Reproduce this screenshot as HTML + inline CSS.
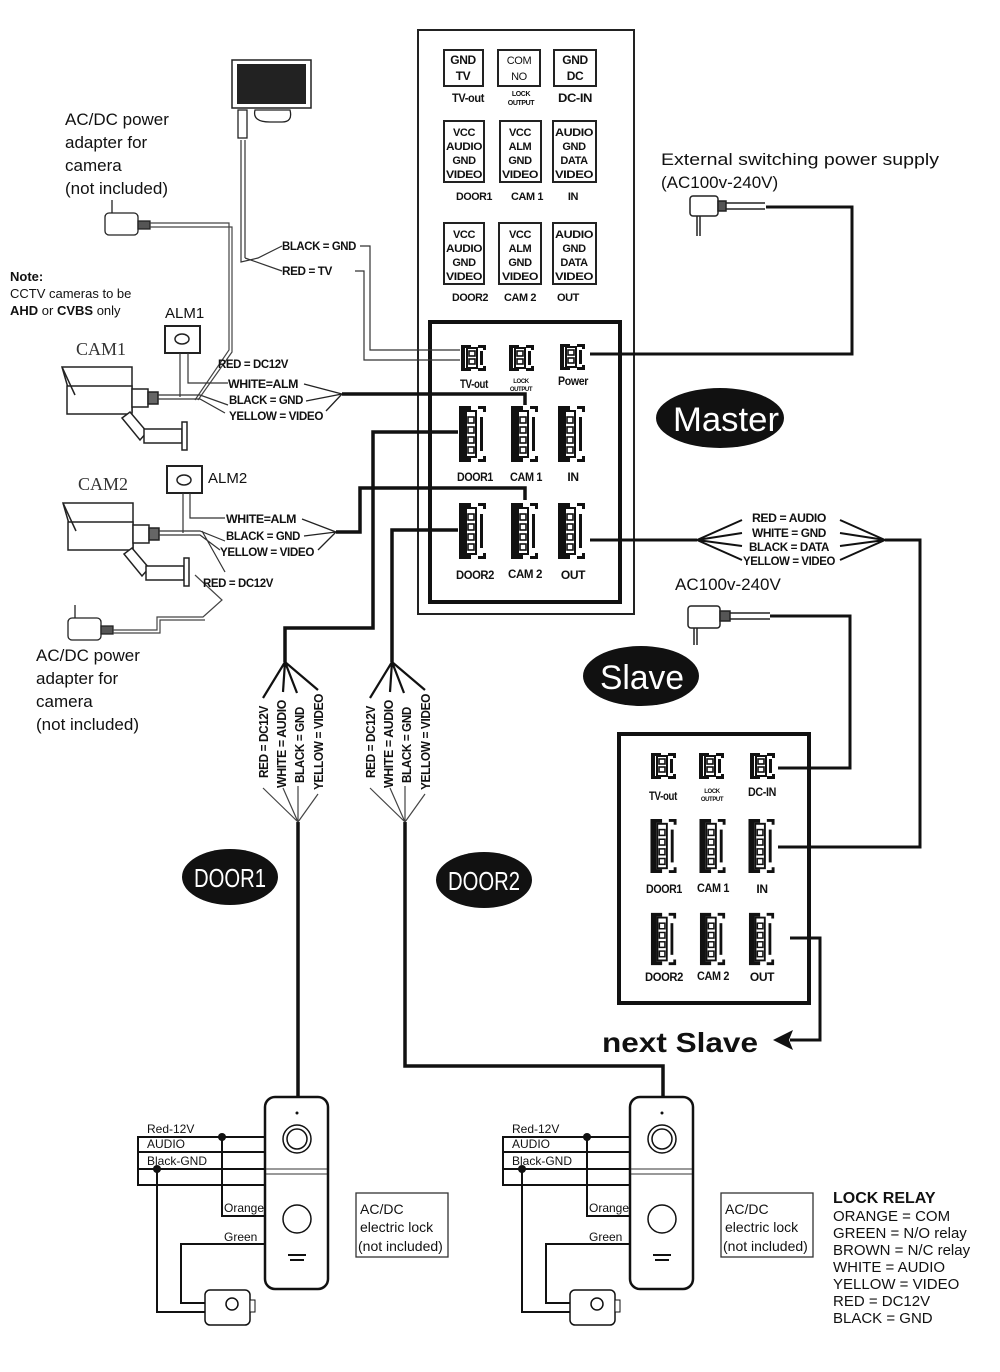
<!DOCTYPE html>
<html><head><meta charset="utf-8"><style>
html,body{margin:0;padding:0;background:#fff}
svg{display:block}
.t{font-family:"Liberation Sans",sans-serif;fill:#111}
.n{font-family:"Liberation Sans",sans-serif;font-weight:bold;fill:#111;letter-spacing:-0.4px}
.s{font-family:"Liberation Serif",serif;fill:#333}
</style></head><body>
<svg width="1000" height="1372" viewBox="0 0 1000 1372" xmlns="http://www.w3.org/2000/svg">
<defs>
<symbol id="c4" viewBox="0 0 30 58">
<path d="M1 1h12v4h-6v48h6v4h-12z" fill="#111"/>
<rect x="8" y="6" width="10" height="46" fill="#fff" stroke="#111" stroke-width="2"/>
<rect x="10" y="12" width="6" height="6" fill="none" stroke="#111" stroke-width="1.6"/>
<rect x="10" y="22" width="6" height="6" fill="none" stroke="#111" stroke-width="1.6"/>
<rect x="10" y="32" width="6" height="6" fill="none" stroke="#111" stroke-width="1.6"/>
<rect x="10" y="42" width="6" height="6" fill="none" stroke="#111" stroke-width="1.6"/>
<rect x="22" y="12" width="3" height="34" fill="#111"/>
<path d="M20 1h8v6h-3v-3h-5zM20 57h8v-6h-3v3h-5z" fill="#111"/>
</symbol>
<symbol id="c2" viewBox="0 0 28 28">
<path d="M1 1h10v3h-6v20h6v3h-10z" fill="#111"/>
<rect x="7" y="4" width="10" height="20" fill="#fff" stroke="#111" stroke-width="2"/>
<rect x="9" y="7" width="6" height="5" fill="none" stroke="#111" stroke-width="1.6"/>
<rect x="9" y="15" width="6" height="5" fill="none" stroke="#111" stroke-width="1.6"/>
<rect x="20" y="7" width="3" height="14" fill="#111"/>
<path d="M18 1h8v5h-3v-2h-5zM18 27h8v-5h-3v2h-5z" fill="#111"/>
</symbol>
</defs>

<!-- master panel -->
<rect x="418" y="30" width="216" height="584" fill="none" stroke="#222" stroke-width="2"/>
<g fill="none" stroke="#222" stroke-width="2">
<rect x="444" y="50" width="39" height="36"/><rect x="498" y="50" width="42" height="36"/><rect x="554" y="50" width="42" height="36"/>
<rect x="444" y="121" width="40" height="61"/><rect x="500" y="121" width="41" height="61"/><rect x="553" y="121" width="43" height="61"/>
<rect x="444" y="223" width="40" height="61"/><rect x="499" y="223" width="42" height="61"/><rect x="553" y="223" width="43" height="61"/>
</g>
<g class="n" font-size="12" text-anchor="middle">
<text x="463" y="64">GND</text><text x="463" y="80">TV</text>
<text x="519" y="64" font-size="11" font-weight="normal">COM</text><text x="519" y="80" font-size="11" font-weight="normal">NO</text>
<text x="575" y="64">GND</text><text x="575" y="80">DC</text>
<text x="468" y="102" textLength="32" lengthAdjust="spacingAndGlyphs">TV-out</text>
<text x="521" y="96" font-size="7">LOCK</text><text x="521" y="105" font-size="7">OUTPUT</text>
<text x="575" y="102" textLength="34" lengthAdjust="spacingAndGlyphs">DC-IN</text>
<g font-size="11">
<text x="464" y="136">VCC</text><text x="464" y="150" textLength="36" lengthAdjust="spacingAndGlyphs">AUDIO</text><text x="464" y="164">GND</text><text x="464" y="178" textLength="36" lengthAdjust="spacingAndGlyphs">VIDEO</text>
<text x="520" y="136">VCC</text><text x="520" y="150">ALM</text><text x="520" y="164">GND</text><text x="520" y="178" textLength="36" lengthAdjust="spacingAndGlyphs">VIDEO</text>
<text x="574" y="136" textLength="38" lengthAdjust="spacingAndGlyphs">AUDIO</text><text x="574" y="150">GND</text><text x="574" y="164">DATA</text><text x="574" y="178" textLength="38" lengthAdjust="spacingAndGlyphs">VIDEO</text>
<text x="474" y="200" textLength="36" lengthAdjust="spacingAndGlyphs">DOOR1</text><text x="527" y="200" textLength="32" lengthAdjust="spacingAndGlyphs">CAM 1</text><text x="573" y="200">IN</text>
<text x="464" y="238">VCC</text><text x="464" y="252" textLength="36" lengthAdjust="spacingAndGlyphs">AUDIO</text><text x="464" y="266">GND</text><text x="464" y="280" textLength="36" lengthAdjust="spacingAndGlyphs">VIDEO</text>
<text x="520" y="238">VCC</text><text x="520" y="252">ALM</text><text x="520" y="266">GND</text><text x="520" y="280" textLength="36" lengthAdjust="spacingAndGlyphs">VIDEO</text>
<text x="574" y="238" textLength="38" lengthAdjust="spacingAndGlyphs">AUDIO</text><text x="574" y="252">GND</text><text x="574" y="266">DATA</text><text x="574" y="280" textLength="38" lengthAdjust="spacingAndGlyphs">VIDEO</text>
<text x="470" y="301" textLength="36" lengthAdjust="spacingAndGlyphs">DOOR2</text><text x="520" y="301" textLength="32" lengthAdjust="spacingAndGlyphs">CAM 2</text><text x="568" y="301">OUT</text>
</g></g>
<rect x="430" y="322" width="190" height="280" fill="none" stroke="#111" stroke-width="4"/>
<use href="#c2" x="460" y="344" width="28" height="28"/>
<use href="#c2" x="508" y="344" width="28" height="28"/>
<use href="#c2" x="559" y="343" width="28" height="28"/>
<use href="#c4" x="458" y="405" width="30" height="58"/>
<use href="#c4" x="510" y="405" width="30" height="58"/>
<use href="#c4" x="557" y="405" width="30" height="58"/>
<use href="#c4" x="458" y="502" width="30" height="58"/>
<use href="#c4" x="510" y="502" width="30" height="58"/>
<use href="#c4" x="557" y="502" width="30" height="58"/>
<g class="n" font-size="12" text-anchor="middle">
<text x="474" y="388" textLength="28" lengthAdjust="spacingAndGlyphs">TV-out</text><text x="521" y="383" font-size="6">LOCK</text><text x="521" y="391" font-size="6">OUTPUT</text><text x="573" y="385" textLength="30" lengthAdjust="spacingAndGlyphs">Power</text>
<text x="475" y="481" textLength="36" lengthAdjust="spacingAndGlyphs">DOOR1</text><text x="526" y="481" textLength="32" lengthAdjust="spacingAndGlyphs">CAM 1</text><text x="573" y="481">IN</text>
<text x="475" y="579" textLength="38" lengthAdjust="spacingAndGlyphs">DOOR2</text><text x="525" y="578" textLength="34" lengthAdjust="spacingAndGlyphs">CAM 2</text><text x="573" y="579">OUT</text>
</g>

<!-- ellipses -->
<ellipse cx="720" cy="418" rx="64" ry="30" fill="#111"/><text x="726" y="431" text-anchor="middle" class="t" font-size="34" style="fill:#fff" textLength="106" lengthAdjust="spacingAndGlyphs">Master</text>
<ellipse cx="641" cy="676" rx="58" ry="30" fill="#111"/><text x="642" y="689" text-anchor="middle" class="t" font-size="34" style="fill:#fff" textLength="84" lengthAdjust="spacingAndGlyphs">Slave</text>
<ellipse cx="230" cy="877" rx="48" ry="28" fill="#111"/><text x="230" y="887" text-anchor="middle" class="t" font-size="26" style="fill:#fff" textLength="72" lengthAdjust="spacingAndGlyphs">DOOR1</text>
<ellipse cx="484" cy="880" rx="48" ry="28" fill="#111"/><text x="484" y="890" text-anchor="middle" class="t" font-size="26" style="fill:#fff" textLength="72" lengthAdjust="spacingAndGlyphs">DOOR2</text>

<!-- external power -->
<text x="661" y="165" class="t" font-size="17" textLength="278" lengthAdjust="spacingAndGlyphs">External switching power supply</text>
<text x="661" y="188" class="t" font-size="17">(AC100v-240V)</text>
<g stroke="#222" fill="#fff" stroke-width="1.5">
<rect x="690" y="196" width="28" height="20" rx="3"/><line x1="697" y1="216" x2="697" y2="236"/><line x1="700" y1="216" x2="700" y2="236"/>
<rect x="718" y="201" width="8" height="10" fill="#555"/>
<line x1="726" y1="203" x2="765" y2="203"/><line x1="726" y1="209" x2="765" y2="209"/>
</g>
<path d="M590 354H852V207H766" fill="none" stroke="#111" stroke-width="3"/>

<!-- OUT to slave IN -->
<path d="M590 540H697" stroke="#111" stroke-width="3" fill="none"/>
<g stroke="#111" stroke-width="2" fill="none">
<path d="M742 520L697 540L742 533M742 546L697 540L742 560"/>
<path d="M840 520L885 540L840 533M840 546L885 540L840 560"/>
</g>
<g class="n" font-size="12" text-anchor="middle">
<text x="789" y="522" textLength="74" lengthAdjust="spacingAndGlyphs">RED = AUDIO</text><text x="789" y="537" textLength="74" lengthAdjust="spacingAndGlyphs">WHITE = GND</text><text x="789" y="551" textLength="80" lengthAdjust="spacingAndGlyphs">BLACK = DATA</text><text x="789" y="565" textLength="92" lengthAdjust="spacingAndGlyphs">YELLOW = VIDEO</text>
</g>
<path d="M885 540H920V847H778" stroke="#111" stroke-width="3" fill="none"/>
<text x="675" y="590" class="t" font-size="17">AC100v-240V</text>
<g stroke="#222" fill="#fff" stroke-width="1.5">
<rect x="688" y="606" width="32" height="22" rx="3"/><line x1="694" y1="628" x2="694" y2="645"/><line x1="697" y1="628" x2="697" y2="645"/>
<rect x="720" y="611" width="10" height="10" fill="#555"/>
<line x1="730" y1="613" x2="770" y2="613"/><line x1="730" y1="619" x2="770" y2="619"/>
</g>
<path d="M770 616H850V768H778" stroke="#111" stroke-width="3" fill="none"/>

<!-- slave box -->
<rect x="619" y="734" width="190" height="269" fill="none" stroke="#111" stroke-width="4"/>
<use href="#c2" x="650" y="752" width="28" height="28"/>
<use href="#c2" x="698" y="752" width="28" height="28"/>
<use href="#c2" x="749" y="752" width="28" height="28"/>
<use href="#c4" x="649" y="818" width="30" height="56"/>
<use href="#c4" x="698" y="818" width="30" height="56"/>
<use href="#c4" x="747" y="818" width="30" height="56"/>
<use href="#c4" x="649" y="912" width="30" height="54"/>
<use href="#c4" x="698" y="912" width="30" height="54"/>
<use href="#c4" x="747" y="912" width="30" height="54"/>
<g class="n" font-size="12" text-anchor="middle">
<text x="663" y="800" textLength="28" lengthAdjust="spacingAndGlyphs">TV-out</text><text x="712" y="793" font-size="6">LOCK</text><text x="712" y="801" font-size="6">OUTPUT</text><text x="762" y="796" textLength="28" lengthAdjust="spacingAndGlyphs">DC-IN</text>
<text x="664" y="893" textLength="36" lengthAdjust="spacingAndGlyphs">DOOR1</text><text x="713" y="892" textLength="32" lengthAdjust="spacingAndGlyphs">CAM 1</text><text x="762" y="893">IN</text>
<text x="664" y="981" textLength="38" lengthAdjust="spacingAndGlyphs">DOOR2</text><text x="713" y="980" textLength="32" lengthAdjust="spacingAndGlyphs">CAM 2</text><text x="762" y="981">OUT</text>
</g>
<path d="M790 938H820V1040H790" stroke="#111" stroke-width="3" fill="none"/>
<path d="M773 1040L793 1030L789 1040L793 1050Z" fill="#111"/>
<text x="602" y="1052" class="t" font-size="28" font-weight="bold" textLength="156" lengthAdjust="spacingAndGlyphs">next  Slave</text>

<!-- TV monitor -->
<rect x="232" y="60" width="79" height="48" fill="#fff" stroke="#222" stroke-width="1.5"/>
<rect x="237" y="64" width="69" height="40" fill="#222"/>
<path d="M255 110Q252 122 270 122H282Q293 122 290 110Z" fill="#fff" stroke="#222" stroke-width="1.3"/>
<rect x="238" y="110" width="9" height="28" fill="#fff" stroke="#222" stroke-width="1.3"/>
<g fill="none" stroke="#333" stroke-width="1.2">
<path d="M241 140V262L258 258L282 246M245 140V258"/>
<path d="M245 258L282 271"/>
<path d="M360 246H370V350H460"/><path d="M355 271H364V360H460"/>
</g>
<g class="n" font-size="12"><text x="282" y="250" textLength="74" lengthAdjust="spacingAndGlyphs">BLACK = GND</text><text x="282" y="275" textLength="50" lengthAdjust="spacingAndGlyphs">RED = TV</text></g>

<!-- left text -->
<g class="t" font-size="17">
<text x="65" y="125">AC/DC power</text><text x="65" y="148">adapter for</text><text x="65" y="171">camera</text><text x="65" y="194">(not included)</text>
<text x="36" y="661">AC/DC power</text><text x="36" y="684">adapter for</text><text x="36" y="707">camera</text><text x="36" y="730">(not included)</text>
</g>
<g class="t" font-size="13">
<text x="10" y="281" font-weight="bold">Note:</text>
<text x="10" y="298">CCTV cameras to be</text>
<text x="10" y="315"><tspan font-weight="bold">AHD</tspan> or <tspan font-weight="bold">CVBS</tspan> only</text>
</g>
<!-- adapters -->
<g stroke="#222" fill="#fff" stroke-width="1.3">
<rect x="105" y="213" width="33" height="22" rx="4"/><line x1="112" y1="200" x2="112" y2="213"/>
<rect x="138" y="221" width="12" height="8" fill="#555"/>
<rect x="68" y="618" width="33" height="22" rx="4"/><line x1="75" y1="605" x2="75" y2="618"/>
<rect x="101" y="626" width="12" height="8" fill="#555"/>
</g>
<g fill="none" stroke="#444" stroke-width="1.2">
<path d="M150 223H229V350L195 400M150 227H232V352L198 400"/>
<path d="M113 630H157V617H203L222 600L195 575M113 633H160V620H205"/>
</g>

<!-- cameras -->
<g stroke="#222" stroke-width="1.5" fill="#fff">
<path d="M62 367H132V412H75L62 367Z"/><rect x="67" y="386" width="65" height="28"/>
<path d="M62 367L75 395"/>
<rect x="132" y="389" width="16" height="18"/><rect x="148" y="392" width="10" height="12" fill="#666"/>
<path d="M122 418L140 440L147 432L130 412Z"/><rect x="144" y="429" width="38" height="14"/><rect x="182" y="422" width="5" height="28"/>
<path d="M63 503H133V548H76L63 503Z"/><rect x="68" y="522" width="65" height="28"/>
<path d="M63 503L76 531"/>
<rect x="133" y="525" width="16" height="18"/><rect x="149" y="528" width="10" height="12" fill="#666"/>
<path d="M124 554L142 576L149 568L132 548Z"/><rect x="146" y="566" width="38" height="14"/><rect x="184" y="558" width="5" height="28"/>
<rect x="165" y="326" width="35" height="27" stroke-width="2"/><ellipse cx="182" cy="339" rx="7" ry="5"/>
<rect x="167" y="466" width="35" height="27" stroke-width="2"/><ellipse cx="184" cy="480" rx="7" ry="5"/>
</g>
<text x="76" y="355" class="s" font-size="18">CAM1</text>
<text x="78" y="490" class="s" font-size="18">CAM2</text>
<text x="165" y="318" class="t" font-size="15">ALM1</text>
<text x="208" y="483" class="t" font-size="15">ALM2</text>
<g fill="none" stroke="#333" stroke-width="1.2">
<path d="M158 395H200L228 405M158 399H200L225 413"/>
<path d="M180 353V397M188 353V383H228"/>
<path d="M159 531H200L225 541M159 535H200L220 550M202 531L225 572"/>
<path d="M183 493V533M190 493V518H225"/>
</g>
<g class="n" font-size="12">
<text x="218" y="368" textLength="70" lengthAdjust="spacingAndGlyphs">RED = DC12V</text><text x="228" y="388" textLength="70" lengthAdjust="spacingAndGlyphs">WHITE=ALM</text><text x="229" y="404" textLength="74" lengthAdjust="spacingAndGlyphs">BLACK = GND</text><text x="229" y="420" textLength="94" lengthAdjust="spacingAndGlyphs">YELLOW = VIDEO</text>
<text x="226" y="523" textLength="70" lengthAdjust="spacingAndGlyphs">WHITE=ALM</text><text x="226" y="540" textLength="74" lengthAdjust="spacingAndGlyphs">BLACK = GND</text><text x="220" y="556" textLength="94" lengthAdjust="spacingAndGlyphs">YELLOW = VIDEO</text><text x="203" y="587" textLength="70" lengthAdjust="spacingAndGlyphs">RED = DC12V</text>
</g>
<g stroke="#222" stroke-width="1.3" fill="none">
<path d="M304 384L342 394L306 401M326 411L342 394"/>
<path d="M302 519L336 532L304 536M318 550L336 532"/>
</g>
<g stroke="#111" stroke-width="3.5" fill="none">
<path d="M342 394H525V405"/>
<path d="M336 532H360V488H525V500"/>
<path d="M458 432H373V628H285V662"/>
<path d="M458 530H392V662"/>
<path d="M298 822V1098"/>
<path d="M405 822V1066H663V1098"/>
</g>
<!-- fans -->
<g stroke="#111" stroke-width="2.2" fill="none">
<path d="M285 662L263 698M285 662L283 692M285 662L297 693M285 662L318 690"/>
<path d="M392 662L370 698M392 662L390 692M392 662L404 693M392 662L425 690"/>
</g>
<g stroke="#444" stroke-width="1.2" fill="none">
<path d="M263 788L298 822L283 788M298 822V786M298 822L318 794"/>
<path d="M370 788L405 822L390 788M405 822V786M405 822L425 794"/>
</g>
<g class="n" font-size="13">
<text transform="translate(268,778) rotate(-90)" textLength="72" lengthAdjust="spacingAndGlyphs">RED = DC12V</text>
<text transform="translate(286,788) rotate(-90)" textLength="88" lengthAdjust="spacingAndGlyphs">WHITE = AUDIO</text>
<text transform="translate(304,783) rotate(-90)" textLength="76" lengthAdjust="spacingAndGlyphs">BLACK = GND</text>
<text transform="translate(323,790) rotate(-90)" textLength="96" lengthAdjust="spacingAndGlyphs">YELLOW = VIDEO</text>
<text transform="translate(375,778) rotate(-90)" textLength="72" lengthAdjust="spacingAndGlyphs">RED = DC12V</text>
<text transform="translate(393,788) rotate(-90)" textLength="88" lengthAdjust="spacingAndGlyphs">WHITE = AUDIO</text>
<text transform="translate(411,783) rotate(-90)" textLength="76" lengthAdjust="spacingAndGlyphs">BLACK = GND</text>
<text transform="translate(430,790) rotate(-90)" textLength="96" lengthAdjust="spacingAndGlyphs">YELLOW = VIDEO</text>
</g>

<!-- doorbells -->
<g id="db">
<rect x="265" y="1097" width="63" height="192" rx="10" fill="#fff" stroke="#111" stroke-width="2.5"/>
<line x1="266" y1="1169" x2="327" y2="1169" stroke="#333"/><line x1="266" y1="1174" x2="327" y2="1174" stroke="#333"/>
<circle cx="297" cy="1113" r="1.5" fill="#111"/>
<circle cx="297" cy="1139" r="14" fill="#fff" stroke="#111" stroke-width="1.5"/><circle cx="297" cy="1139" r="10" fill="#fff" stroke="#111" stroke-width="1.5"/>
<circle cx="297" cy="1219" r="14" fill="#fff" stroke="#111" stroke-width="1.5"/>
<line x1="288" y1="1255" x2="306" y2="1255" stroke="#111" stroke-width="2"/><line x1="290" y1="1260" x2="304" y2="1260" stroke="#111" stroke-width="2"/>
<g fill="none" stroke="#111" stroke-width="2">
<path d="M265 1137H138V1185H265M138 1152H265M138 1169H265"/>
<path d="M222 1137V1216H265"/>
<path d="M265 1244H181V1303H207"/>
<path d="M157 1169V1312H207"/>
</g>
<circle cx="222" cy="1137" r="4" fill="#111"/><circle cx="157" cy="1169" r="4" fill="#111"/>
<rect x="205" y="1290" width="45" height="35" rx="5" fill="#fff" stroke="#111" stroke-width="1.5"/>
<circle cx="232" cy="1304" r="6" fill="#fff" stroke="#111" stroke-width="1.5"/><rect x="250" y="1300" width="5" height="12" fill="#fff" stroke="#111"/>
<g class="t" font-size="12"><text x="147" y="1133">Red-12V</text><text x="147" y="1148">AUDIO</text><text x="147" y="1165">Black-GND</text><text x="224" y="1212">Orange</text><text x="224" y="1241">Green</text></g>
<rect x="356" y="1193" width="92" height="64" fill="#fff" stroke="#333" stroke-width="1.3"/>
<g class="t" font-size="14"><text x="360" y="1214">AC/DC</text><text x="360" y="1232">electric lock</text><text x="358" y="1251">(not included)</text></g>
</g>
<use href="#db" x="365" y="0"/>

<g class="t" font-size="15">
<text x="833" y="1203" font-weight="bold" font-size="16">LOCK RELAY</text>
<text x="833" y="1221">ORANGE = COM</text><text x="833" y="1238">GREEN = N/O relay</text><text x="833" y="1255">BROWN = N/C relay</text>
<text x="833" y="1272">WHITE = AUDIO</text><text x="833" y="1289">YELLOW = VIDEO</text><text x="833" y="1306">RED = DC12V</text><text x="833" y="1323">BLACK = GND</text>
</g>
</svg>
</body></html>
